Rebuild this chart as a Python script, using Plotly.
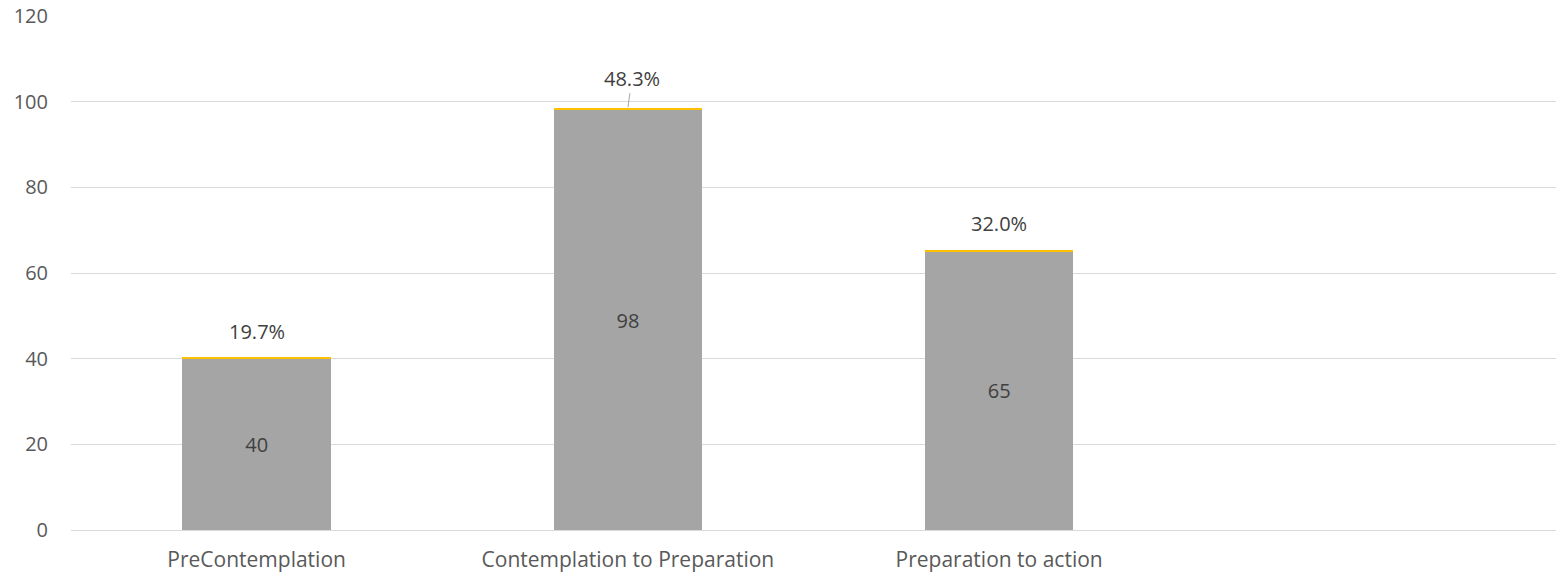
import plotly.graph_objects as go

categories = ["PreContemplation", "Contemplation to Preparation", "Preparation to action"]
counts = [40, 98, 65]
shares = [0.197, 0.483, 0.320]
share_labels = ["19.7%", "48.3%", "32.0%"]

FONT = "Open Sans"
FS = 20
fig = go.Figure()
fig.add_trace(go.Bar(
    x=categories, y=counts, name="Count",
    marker=dict(color="#A5A5A5", line=dict(width=0)),
    text=[str(v) for v in counts], textposition="inside", insidetextanchor="middle",
    textfont=dict(color="#404040", size=FS, family=FONT),
))
fig.add_trace(go.Bar(
    x=categories, y=shares, name="Share",
    marker=dict(color="#FFC000", line=dict(width=0)),
    hoverinfo="skip",
))

for i, (c, n, s, lab) in enumerate(zip(categories, counts, shares, share_labels)):
    if i == 1:
        fig.add_annotation(x=c, y=n + s, text=lab, showarrow=True, arrowhead=0,
                           arrowwidth=1, arrowcolor="#A6A6A6", ax=4, ay=-30,
                           standoff=1, font=dict(color="#404040", size=FS, family=FONT))
    else:
        fig.add_annotation(x=c, y=n + s, text=lab, showarrow=False, yanchor="bottom",
                           yshift=11, font=dict(color="#404040", size=FS, family=FONT))

fig.update_layout(
    width=1556, height=574,
    barmode="stack", bargap=0.6,
    showlegend=False,
    plot_bgcolor="white", paper_bgcolor="white",
    margin=dict(l=71, r=0, t=16, b=44),
    font=dict(family=FONT, color="#595959", size=FS),
    xaxis=dict(range=[-0.5, 3.5], showgrid=False, showline=True, linecolor="#D9D9D9",
               linewidth=1, ticks="", ticklabelstandoff=11, automargin=False,
               tickfont=dict(size=21, color="#595959")),
    yaxis=dict(range=[0, 120], dtick=20, showgrid=True, gridcolor="#D9D9D9", gridwidth=1,
               zeroline=False, ticks="", ticklabelstandoff=22, automargin=False,
               tickfont=dict(size=FS, color="#595959")),
)
fig.write_html("out.html")
